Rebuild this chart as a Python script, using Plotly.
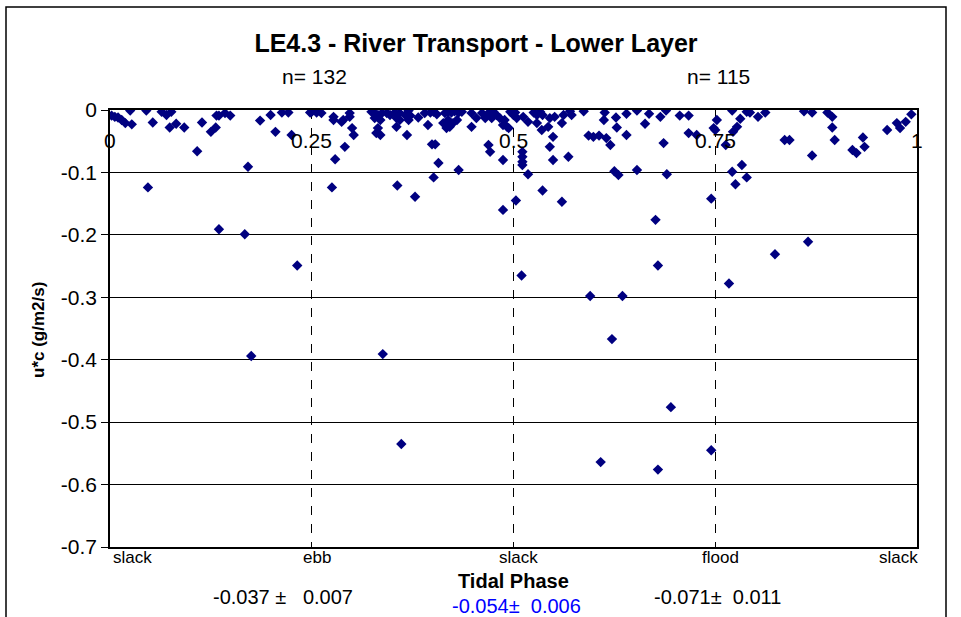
import plotly.graph_objects as go

# ---- data ----
phase = [
    0.002, 0.006, 0.010, 0.0145, 0.019, 0.025, 0.027, 0.045, 0.047, 0.053, 0.064, 0.070, 0.076, 0.074,
    0.082, 0.092, 0.108, 0.114, 0.125, 0.131, 0.132, 0.135, 0.135, 0.1425, 0.149, 0.167, 0.171, 0.175,
    0.186, 0.199, 0.205, 0.213, 0.221, 0.225, 0.232, 0.248,
    0.250, 0.256, 0.262, 0.277, 0.277, 0.287, 0.289, 0.297, 0.297, 0.300, 0.302, 0.291, 0.279, 0.275,
    0.324, 0.328, 0.332, 0.337, 0.343, 0.347, 0.353, 0.359, 0.366, 0.370, 0.372,
    0.328, 0.335, 0.332, 0.330, 0.335, 0.338, 0.361,
    0.355, 0.355, 0.359, 0.368, 0.370, 0.382,
    0.390, 0.397, 0.401, 0.405, 0.394, 0.399, 0.403, 0.407, 0.401, 0.432, 0.356, 0.378,
    0.415, 0.419, 0.423, 0.427, 0.432, 0.436,
    0.413, 0.417, 0.421, 0.425, 0.430, 0.419,
    0.448, 0.448, 0.454, 0.461, 0.465, 0.469, 0.473, 0.475, 0.479, 0.483, 0.487, 0.492, 0.496,
    0.469, 0.471, 0.487, 0.487,
    0.489, 0.494,
    0.500, 0.502, 0.504, 0.503, 0.510,
    0.512, 0.518, 0.525, 0.529, 0.533, 0.536, 0.529, 0.535, 0.543, 0.545, 0.549, 0.551, 0.560, 0.562,
    0.570, 0.572, 0.545,
    0.511, 0.511, 0.511, 0.511, 0.518, 0.549, 0.568, 0.536, 0.560,
    0.587, 0.593, 0.599, 0.606, 0.613, 0.612, 0.615, 0.620, 0.627, 0.628, 0.625, 0.630, 0.640, 0.640,
    0.653, 0.653, 0.663, 0.668, 0.682, 0.689, 0.686, 0.690, 0.706, 0.717, 0.717, 0.727,
    0.676, 0.679, 0.595, 0.635, 0.622, 0.695, 0.608, 0.679, 0.745, 0.745,
    0.748, 0.750, 0.752, 0.771, 0.781, 0.777, 0.772, 0.789, 0.793, 0.803, 0.812, 0.763, 0.771, 0.783,
    0.775, 0.789, 0.767, 0.824, 0.865, 0.836, 0.842, 0.860, 0.870, 0.870, 0.889, 0.895, 0.895, 0.898,
    0.920, 0.925, 0.933, 0.935, 0.963, 0.975, 0.979, 0.986, 0.993,
]
transport = [
    -0.009, -0.011, -0.012, -0.016, -0.021, -0.001, -0.023, -0.001, -0.124, -0.020, -0.003, -0.008, -0.003, -0.028,
    -0.022, -0.028, -0.066, -0.020, -0.035, -0.028, -0.009, -0.009, -0.191, -0.005, -0.009, -0.199, -0.091, -0.394,
    -0.017, -0.008, -0.035, -0.004, -0.004, -0.040, -0.249, -0.004,
    -0.003, -0.004, -0.005, -0.011, -0.016, -0.019, -0.016, -0.005, -0.011, -0.029, -0.040, -0.059, -0.079, -0.124,
    -0.003, -0.005, -0.008, -0.005, -0.005, -0.008, -0.004, -0.005, -0.008, -0.001, -0.009,
    -0.013, -0.016, -0.029, -0.037, -0.040, -0.391, -0.535,
    -0.027, -0.013, -0.016, -0.040, -0.016, -0.012,
    -0.005, -0.004, -0.003, -0.007, -0.024, -0.055, -0.055, -0.085, -0.108, -0.096, -0.121, -0.139,
    -0.005, -0.003, -0.004, -0.002, -0.004, -0.003,
    -0.021, -0.029, -0.027, -0.021, -0.016, -0.016,
    -0.005, -0.027, -0.013, -0.005, -0.013, -0.005, -0.013, -0.003, -0.008, -0.013, -0.024, -0.027, -0.003,
    -0.056, -0.067, -0.080, -0.160,
    -0.016, -0.029,
    -0.008, -0.004, -0.013, -0.145, -0.265,
    -0.011, -0.019, -0.004, -0.008, -0.003, -0.008, -0.021, -0.032, -0.027, -0.013, -0.043, -0.011, -0.021, -0.008,
    -0.002, -0.008, -0.059,
    -0.067, -0.075, -0.083, -0.088, -0.103, -0.080, -0.075, -0.129, -0.147,
    -0.002, -0.041, -0.043, -0.041, -0.004, -0.016, -0.045, -0.056, -0.012, -0.028, -0.098, -0.104, -0.006, -0.040,
    -0.001, -0.096, -0.022, -0.006, -0.011, -0.001, -0.053, -0.103, -0.009, -0.009, -0.037, -0.040,
    -0.176, -0.249, -0.298, -0.298, -0.367, -0.476, -0.564, -0.576, -0.545, -0.142,
    -0.029, -0.032, -0.016, -0.001, -0.014, -0.027, -0.035, -0.003, -0.004, -0.011, -0.004, -0.056, -0.099, -0.088,
    -0.119, -0.108, -0.278, -0.231, -0.211, -0.048, -0.048, -0.002, -0.004, -0.073, -0.004, -0.011, -0.028, -0.048,
    -0.064, -0.069, -0.044, -0.059, -0.032, -0.021, -0.029, -0.019, -0.007,
]

x_ticks = [0, 0.25, 0.5, 0.75, 1]
x_tick_labels = ["0", "0.25", "0.5", "0.75", "1"]
y_ticks = [0, -0.1, -0.2, -0.3, -0.4, -0.5, -0.6, -0.7]
y_tick_labels = ["0", "-0.1", "-0.2", "-0.3", "-0.4", "-0.5", "-0.6", "-0.7"]
phase_names = ["slack", "ebb", "slack", "flood", "slack"]
counts = ["n= 132", "n= 115"]
count_pos = [0.25, 0.75]
stats = ["-0.037 \u00b1 \u00a0 0.007", "-0.054\u00b1 \u00a00.006", "-0.071\u00b1 \u00a00.011"]

FONT = "Liberation Sans Narrow, Arial Narrow, Liberation Sans, Arial, sans-serif"

fig = go.Figure()
fig.add_trace(go.Scatter(
    x=phase, y=transport, mode="markers",
    marker=dict(symbol="diamond", size=8, color="#000080", line=dict(width=0)),
    showlegend=False, hoverinfo="x+y",
))

fig.update_layout(
    width=961, height=617, autosize=False,
    margin=dict(l=110, r=44, t=110, b=70),
    paper_bgcolor="white", plot_bgcolor="white",
    font=dict(family=FONT, color="black", size=16),
    title=dict(text="<b>LE4.3 - River Transport - Lower Layer</b>",
               x=476 / 961, xanchor="center", y=1 - 43 / 617, yanchor="middle",
               font=dict(size=25, family=FONT)),
    xaxis=dict(range=[0, 1], tickvals=x_ticks, showticklabels=False, ticks="",
               showgrid=True, griddash="dash", gridcolor="black", gridwidth=1,
               showline=True, mirror=True, linecolor="black", linewidth=1.5,
               zeroline=False, fixedrange=True),
    yaxis=dict(range=[-0.7, 0], tickvals=y_ticks, ticktext=y_tick_labels,
               ticks="outside", ticklen=7, tickcolor="black",
               showgrid=True, gridcolor="black", gridwidth=1,
               showline=True, mirror=True, linecolor="black", linewidth=1.5,
               zeroline=False, tickfont=dict(size=21), fixedrange=True),
)

ann = []
for v, t in zip(x_ticks, x_tick_labels):
    ann.append(dict(x=v, y=0, xref="x", yref="y", text=t, showarrow=False,
                    yshift=-30, font=dict(size=21)))
for i, (v, t) in enumerate(zip(x_ticks, phase_names)):
    if i == 0:
        xa, xs = "left", 1
    elif i == len(x_ticks) - 1:
        xa, xs = "right", 3
    else:
        xa, xs = "center", 5
    ann.append(dict(x=v, y=-10 / 437, xref="x", yref="paper", text=t, showarrow=False,
                    xanchor=xa, xshift=xs, yanchor="middle", font=dict(size=17)))
for v, t in zip(count_pos, counts):
    ann.append(dict(x=v, y=(547 - 77) / 437, xref="x", yref="paper", text=t, showarrow=False,
                    xshift=3, yanchor="middle", font=dict(size=21)))
ann.append(dict(x=0.5, y=-34 / 437, xref="x", yref="paper", text="<b>Tidal Phase</b>",
                showarrow=False, yanchor="middle", font=dict(size=20)))
ann.append(dict(x=(283 - 110) / 807, y=-50 / 437, xref="x", yref="paper", text=stats[0],
                showarrow=False, yanchor="middle", font=dict(size=20)))
ann.append(dict(x=(516 - 110) / 807, y=-59 / 437, xref="x", yref="paper", text=stats[1],
                showarrow=False, yanchor="middle", font=dict(size=20, color="#0000FF")))
ann.append(dict(x=(717 - 110) / 807, y=-50 / 437, xref="x", yref="paper", text=stats[2],
                showarrow=False, yanchor="middle", font=dict(size=20)))
ann.append(dict(x=(38 - 110) / 807, y=(547 - 330) / 437, xref="paper", yref="paper",
                text="<b>u*c (g/m2/s)</b>", textangle=-90, showarrow=False,
                xanchor="center", yanchor="middle", font=dict(size=17)))
fig.update_layout(annotations=ann)

fig.add_shape(type="rect", xref="paper", yref="paper",
              x0=(6 - 110) / 807, x1=(946 - 110) / 807,
              y0=(547 - 660) / 437, y1=(547 - 7) / 437,
              line=dict(color="black", width=1.5), fillcolor="rgba(0,0,0,0)", layer="below")

fig.write_html("out.html", config={"displayModeBar": False},
               post_script="document.body.style.margin='0';document.body.style.padding='0';")
